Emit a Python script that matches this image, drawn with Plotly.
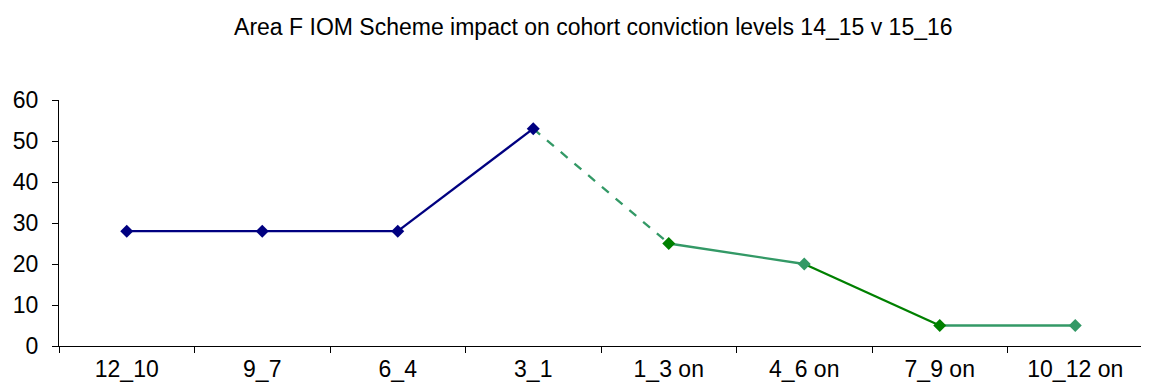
import plotly.graph_objects as go

categories = ["12_10", "9_7", "6_4", "3_1", "1_3 on", "4_6 on", "7_9 on", "10_12 on"]
values = [28, 28, 28, 53, 25, 20, 5, 5]
title_text = "Area F IOM Scheme impact on cohort conviction levels 14_15 v 15_16"

NAVY = "#000080"
GREEN = "#008000"
SEA = "#339966"

# style of each segment i -> i+1
seg_colors = [NAVY, NAVY, NAVY, SEA, SEA, GREEN, SEA]
seg_dash = ["solid", "solid", "solid", "dash", "solid", "solid", "solid"]
marker_colors = [NAVY, NAVY, NAVY, NAVY, GREEN, SEA, GREEN, SEA]

fig = go.Figure()
for i in range(len(categories) - 1):
    fig.add_trace(go.Scatter(
        x=categories[i:i + 2], y=values[i:i + 2], mode="lines",
        line=dict(color=seg_colors[i], width=2.3, dash=seg_dash[i]),
        showlegend=False, hoverinfo="skip"))
fig.add_trace(go.Scatter(
    x=categories, y=values, mode="markers",
    marker=dict(symbol="diamond", size=10, color=marker_colors),
    showlegend=False))

fig.update_layout(
    width=1141, height=377,
    margin=dict(l=51, r=6, t=92, b=39),
    paper_bgcolor="white", plot_bgcolor="white",
    font=dict(family="Liberation Sans, Arial, sans-serif", color="black"),
    title=dict(text=title_text, x=0.513, xanchor="center", y=0.95, yanchor="middle",
               font=dict(size=23, color="black")),
)
fig.update_xaxes(
    type="category", categoryorder="array", categoryarray=categories,
    range=[-0.5, 7.5], tickson="boundaries", automargin=False,
    showline=True, linecolor="black", linewidth=1,
    ticks="outside", ticklen=6, tickcolor="black",
    showgrid=False, zeroline=False, ticklabelstandoff=2,
    tickfont=dict(size=23, color="black"),
)
fig.update_yaxes(
    range=[0, 60], dtick=10, automargin=False,
    showline=True, linecolor="black", linewidth=1,
    ticks="outside", ticklen=6, tickcolor="black",
    showgrid=False, zeroline=False, ticklabelstandoff=9,
    tickfont=dict(size=23, color="black"),
)

fig.write_html("out.html")
